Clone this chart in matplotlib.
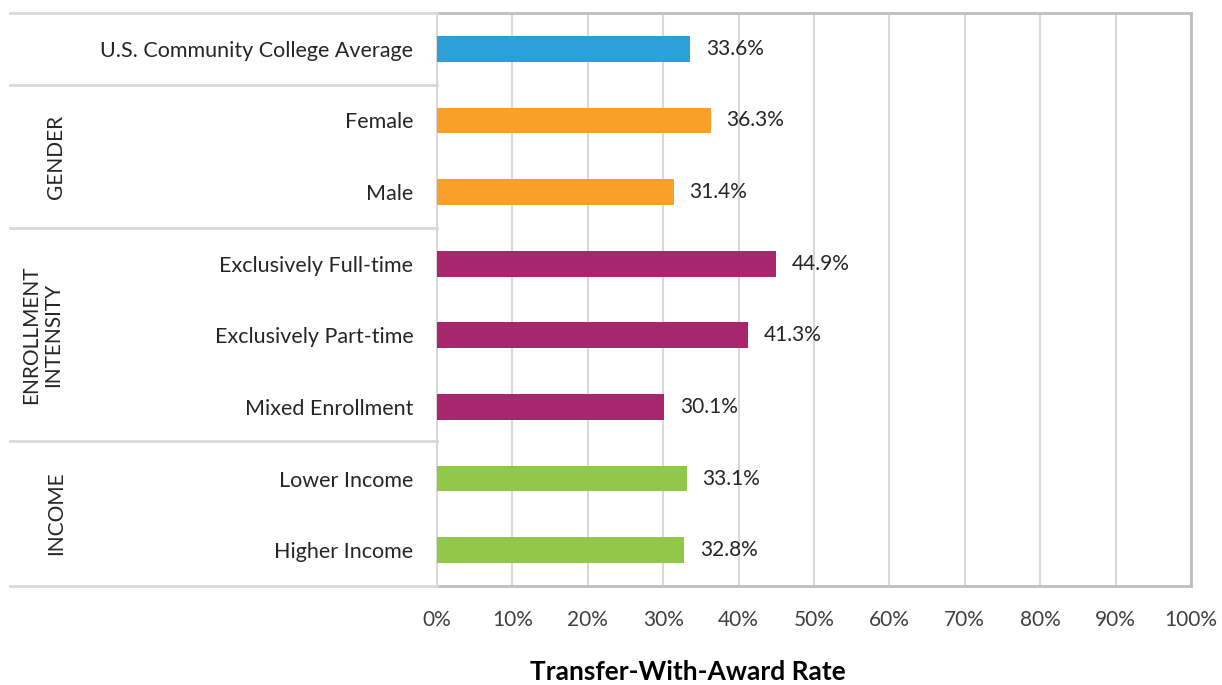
import matplotlib.pyplot as plt
import numpy as np
from matplotlib.ticker import PercentFormatter
from matplotlib.lines import Line2D

categories = ['U.S. Community College Average', 'Female', 'Male',
              'Exclusively Full-time', 'Exclusively Part-time', 'Mixed Enrollment',
              'Lower Income', 'Higher Income']
rates = [33.6, 36.3, 31.4, 44.9, 41.3, 30.1, 33.1, 32.8]
groups = ['', 'GENDER', 'GENDER', 'ENROLLMENT\nINTENSITY', 'ENROLLMENT\nINTENSITY',
          'ENROLLMENT\nINTENSITY', 'INCOME', 'INCOME']
group_colors = {'': '#2E9FD9', 'GENDER': '#F8A02A',
                'ENROLLMENT\nINTENSITY': '#A8266D', 'INCOME': '#92C84A'}

plt.rcParams['font.family'] = ['Lato', 'DejaVu Sans']
text_col = '#262626'
grid_col = '#D9D9D9'

fig = plt.figure(figsize=(12.22, 6.85), dpi=100)
ax = fig.add_axes([437 / 1222, 1 - 586 / 685, (1191 - 437) / 1222, (586 - 13) / 685])

y = np.arange(len(categories))
colors = [group_colors[g] for g in groups]
ax.barh(y, rates, height=0.36, color=colors, zorder=3)
for yi, v in zip(y, rates):
    ax.text(v + 2.1, yi, f'{v:.1f}%', va='center', ha='left', fontsize=15, color=text_col)

ax.set_xlim(0, 100)
ax.set_ylim(len(categories) - 0.5, -0.5)
ax.set_xticks(np.arange(0, 101, 10))
ax.xaxis.set_major_formatter(PercentFormatter(decimals=0))
ax.set_yticks(y)
ax.set_yticklabels(categories)
ax.tick_params(axis='y', length=0, pad=17, labelsize=15.5, labelcolor=text_col)
ax.tick_params(axis='x', length=0, pad=17, labelsize=15, labelcolor='#404040')
ax.xaxis.grid(True, color=grid_col, linewidth=1.5, zorder=0)
ax.set_axisbelow(True)
for side in ['top', 'right', 'bottom']:
    ax.spines[side].set_color('#BFBFBF')
    ax.spines[side].set_linewidth(2)
ax.spines['left'].set_color(grid_col)
ax.spines['left'].set_linewidth(1.5)

# group separators on the left side
H = 685
for ypix in [13, 85, 228, 441, 586]:
    fig.add_artist(Line2D([10 / 1222, 437 / 1222], [1 - ypix / H, 1 - ypix / H],
                          color=grid_col, linewidth=2))

# group labels
group_pos = [('GENDER', 56, 157), ('ENROLLMENT\nINTENSITY', 42, 335), ('INCOME', 56, 513)]
for name, xpix, ypix in group_pos:
    fig.text(xpix / 1222, 1 - ypix / H, name, rotation=90, ha='center', va='center',
             fontsize=15, color=text_col, linespacing=1.15)

fig.text(688 / 1222, 1 - 672 / H, 'Transfer-With-Award Rate', ha='center', va='center',
         fontsize=19, fontweight='bold', color='black')

plt.savefig('out.png', dpi=100)
